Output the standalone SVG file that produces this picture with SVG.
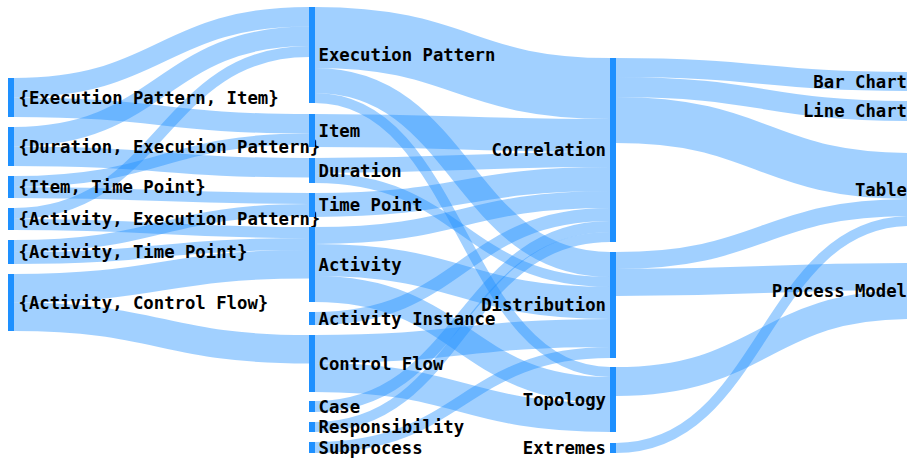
<svg xmlns="http://www.w3.org/2000/svg" width="907" height="459" viewBox="0 0 907 459">
<style>
.link{fill:none;stroke:#1e90ff;stroke-opacity:0.42}
.node rect{fill:#1e90ff}
.node text{font-family:"DejaVu Sans Mono","Liberation Mono",monospace;font-weight:bold;font-size:17.3px;fill:#000}
.r text{text-anchor:end}
</style>
<rect width="907" height="459" fill="#fff"/>
<g id="links">
<path class="link" stroke-width="19.5" d="M14,87.75C161.5,87.75 161.5,16.75 309,16.75"/>
<path class="link" stroke-width="19.5" d="M14,107.25C161.5,107.25 161.5,123.75 309,123.75"/>
<path class="link" stroke-width="19.5" d="M14,136.75C161.5,136.75 161.5,36.25 309,36.25"/>
<path class="link" stroke-width="19.5" d="M14,156.25C161.5,156.25 161.5,167.75 309,167.75"/>
<path class="link" stroke-width="11" d="M14,181.5C161.5,181.5 161.5,139 309,139"/>
<path class="link" stroke-width="11" d="M14,192.5C161.5,192.5 161.5,198.5 309,198.5"/>
<path class="link" stroke-width="11" d="M14,213.5C161.5,213.5 161.5,51.5 309,51.5"/>
<path class="link" stroke-width="11" d="M14,224.5C161.5,224.5 161.5,232.5 309,232.5"/>
<path class="link" stroke-width="12" d="M14,246C161.5,246 161.5,210 309,210"/>
<path class="link" stroke-width="12" d="M14,258C161.5,258 161.5,244 309,244"/>
<path class="link" stroke-width="28.5" d="M14,288.25C161.5,288.25 161.5,264.25 309,264.25"/>
<path class="link" stroke-width="28.5" d="M14,316.75C161.5,316.75 161.5,349.25 309,349.25"/>
<path class="link" stroke-width="61" d="M315,37.5C462.5,37.5 462.5,88.5 610,88.5"/>
<path class="link" stroke-width="25" d="M315,80.5C462.5,80.5 462.5,264.5 610,264.5"/>
<path class="link" stroke-width="10" d="M315,98C462.5,98 462.5,372 610,372"/>
<path class="link" stroke-width="33" d="M315,130.5C462.5,130.5 462.5,135.5 610,135.5"/>
<path class="link" stroke-width="15" d="M315,165.5C462.5,165.5 462.5,159.5 610,159.5"/>
<path class="link" stroke-width="10" d="M315,178C462.5,178 462.5,282 610,282"/>
<path class="link" stroke-width="24" d="M315,205C462.5,205 462.5,179 610,179"/>
<path class="link" stroke-width="17" d="M315,235.5C462.5,235.5 462.5,199.5 610,199.5"/>
<path class="link" stroke-width="32" d="M315,260C462.5,260 462.5,303 610,303"/>
<path class="link" stroke-width="26" d="M315,289C462.5,289 462.5,390 610,390"/>
<path class="link" stroke-width="13" d="M315,318.5C462.5,318.5 462.5,214.5 610,214.5"/>
<path class="link" stroke-width="28" d="M315,349C462.5,349 462.5,333 610,333"/>
<path class="link" stroke-width="29" d="M315,377.5C462.5,377.5 462.5,417.5 610,417.5"/>
<path class="link" stroke-width="11" d="M315,406.5C462.5,406.5 462.5,226.5 610,226.5"/>
<path class="link" stroke-width="10" d="M315,427C462.5,427 462.5,237 610,237"/>
<path class="link" stroke-width="11" d="M315,447.5C462.5,447.5 462.5,352.5 610,352.5"/>
<path class="link" stroke-width="19" d="M616,67.5C763.5,67.5 763.5,81.5 911,81.5"/>
<path class="link" stroke-width="20" d="M616,87C763.5,87 763.5,111 911,111"/>
<path class="link" stroke-width="46" d="M616,120C763.5,120 763.5,176 911,176"/>
<path class="link" stroke-width="17" d="M616,260.5C763.5,260.5 763.5,207.5 911,207.5"/>
<path class="link" stroke-width="27" d="M616,282.5C763.5,282.5 763.5,276.5 911,276.5"/>
<path class="link" stroke-width="29" d="M616,381.5C763.5,381.5 763.5,304.5 911,304.5"/>
<path class="link" stroke-width="10" d="M616,448C763.5,448 763.5,221 911,221"/>
</g>
<g id="node-ep-item" class="node"><rect x="8" y="78" width="6" height="39"/><text x="18.5" y="103.5">{Execution Pattern, Item}</text></g>
<g id="node-dur-ep" class="node"><rect x="8" y="127" width="6" height="39"/><text x="18.5" y="152.5">{Duration, Execution Pattern}</text></g>
<g id="node-item-tp" class="node"><rect x="8" y="176" width="6" height="22"/><text x="18.5" y="193">{Item, Time Point}</text></g>
<g id="node-act-ep" class="node"><rect x="8" y="208" width="6" height="22"/><text x="18.5" y="225">{Activity, Execution Pattern}</text></g>
<g id="node-act-tp" class="node"><rect x="8" y="240" width="6" height="24"/><text x="18.5" y="258">{Activity, Time Point}</text></g>
<g id="node-act-cf" class="node"><rect x="8" y="274" width="6" height="57"/><text x="18.5" y="308.5">{Activity, Control Flow}</text></g>
<g id="node-ep" class="node"><rect x="309" y="7" width="6" height="96"/><text x="318.5" y="61">Execution Pattern</text></g>
<g id="node-item" class="node"><rect x="309" y="114" width="6" height="33"/><text x="318.5" y="136.5">Item</text></g>
<g id="node-duration" class="node"><rect x="309" y="158" width="6" height="25"/><text x="318.5" y="176.5">Duration</text></g>
<g id="node-timepoint" class="node"><rect x="309" y="193" width="6" height="24"/><text x="318.5" y="211">Time Point</text></g>
<g id="node-activity" class="node"><rect x="309" y="227" width="6" height="75"/><text x="318.5" y="270.5">Activity</text></g>
<g id="node-ai" class="node"><rect x="309" y="312" width="6" height="13"/><text x="318.5" y="324.5">Activity Instance</text></g>
<g id="node-cf" class="node"><rect x="309" y="335" width="6" height="57"/><text x="318.5" y="369.5">Control Flow</text></g>
<g id="node-case" class="node"><rect x="309" y="401" width="6" height="11"/><text x="318.5" y="412.5">Case</text></g>
<g id="node-resp" class="node"><rect x="309" y="422" width="6" height="10"/><text x="318.5" y="433">Responsibility</text></g>
<g id="node-sub" class="node"><rect x="309" y="442" width="6" height="11"/><text x="318.5" y="453.5">Subprocess</text></g>
<g id="node-corr" class="node r"><rect x="610" y="58" width="6" height="184"/><text x="606" y="156">Correlation</text></g>
<g id="node-dist" class="node r"><rect x="610" y="252" width="6" height="106"/><text x="606" y="311">Distribution</text></g>
<g id="node-topo" class="node r"><rect x="610" y="367" width="6" height="65"/><text x="606" y="405.5">Topology</text></g>
<g id="node-ext" class="node r"><rect x="610" y="443" width="6" height="10"/><text x="606" y="454">Extremes</text></g>
<g id="node-bar" class="node r"><rect x="911" y="72" width="6" height="19"/><text x="907" y="87.5">Bar Chart</text></g>
<g id="node-line" class="node r"><rect x="911" y="101" width="6" height="20"/><text x="907" y="117">Line Chart</text></g>
<g id="node-table" class="node r"><rect x="911" y="153" width="6" height="73"/><text x="907" y="195.5">Table</text></g>
<g id="node-pm" class="node r"><rect x="911" y="263" width="6" height="56"/><text x="907" y="297">Process Model</text></g>
</svg>
